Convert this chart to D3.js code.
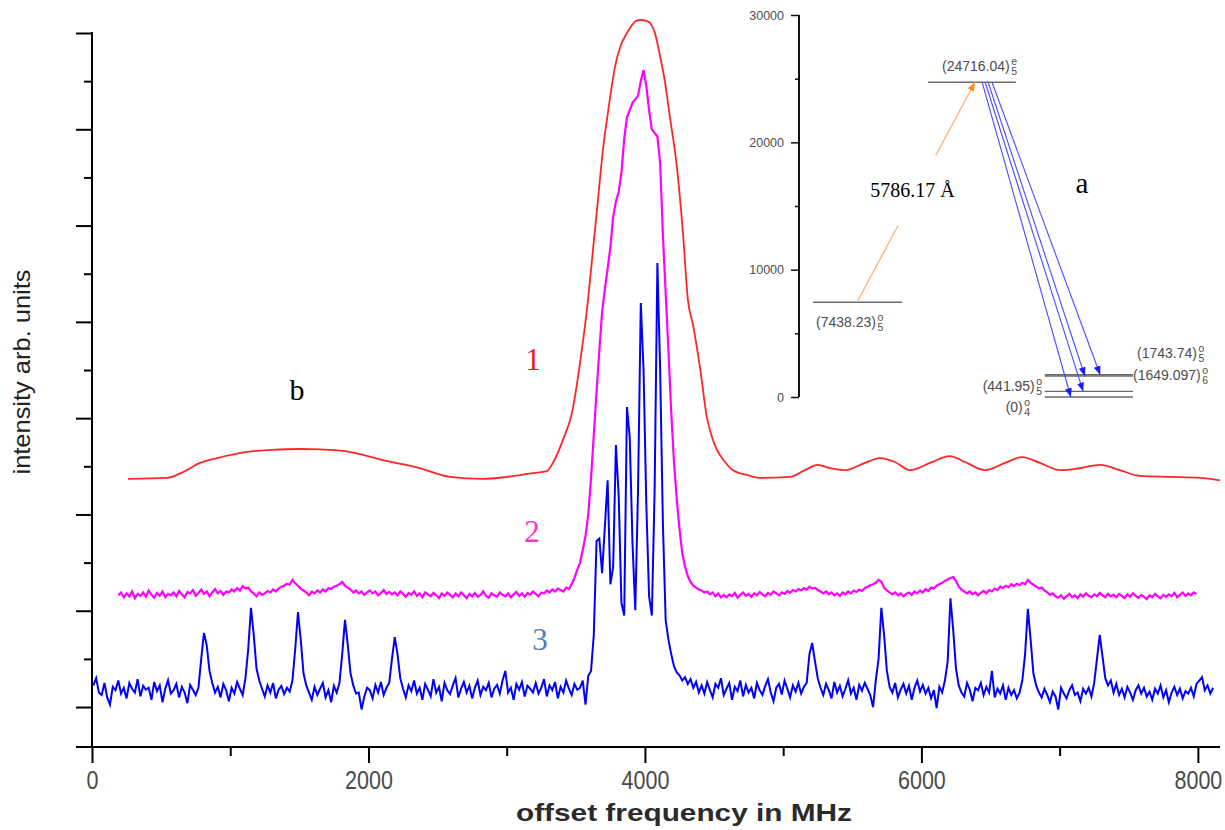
<!DOCTYPE html>
<html><head><meta charset="utf-8">
<script src="https://cdn.jsdelivr.net/npm/d3@7/dist/d3.min.js"></script>
<style>body{margin:0;background:#fff;} svg{display:block;}</style>
</head><body>
<svg id="chart" width="1225" height="830"></svg>
<script>
// ---------------- DATA ----------------
const xMajorTicks = [0, 2000, 4000, 6000, 8000];
const xMinorTicks = [1000, 3000, 5000, 7000];
const yMajorTicks = [0, 200, 400, 600, 800, 1000, 1200, 1400];
const yMinorTicks = [100, 300, 500, 700, 900, 1100, 1300];

// curve 1 (red): [offset MHz, intensity]
const redCurve = [[260,474],[542,476],[658,488],[781,507],[904,517],[1121,530],[1300,534],[1505,536],[1650,535],[1816,532],[1960,524],[2105,513],[2351,498],[2590,478],[2828,474],[3000,478],[3190,486],[3291,490],[3334,507],[3407,555],[3472,611],[3530,714],[3588,845],[3624,949],[3660,1053],[3696,1157],[3740,1250],[3783,1329],[3826,1375],[3870,1400],[3906,1416],[3935,1425],[3971,1427],[4007,1425],[4036,1421],[4072,1400],[4108,1354],[4145,1298],[4181,1225],[4231,1122],[4275,985],[4311,845],[4347,795],[4398,706],[4448,602],[4485,561],[4521,534],[4579,509],[4637,492],[4738,482],[4832,476],[5049,478],[5157,492],[5251,503],[5338,496],[5447,492],[5591,507],[5700,517],[5808,509],[5917,492],[6062,507],[6206,521],[6315,509],[6459,492],[6604,507],[6727,519],[6857,507],[7002,492],[7146,496],[7291,503],[7436,492],[7581,480],[7797,478],[8014,476],[8159,471]];

// curve 2 (magenta): sampled every magentaStep MHz from magentaStart
const magentaStart = 190, magentaStep = 20;
const magentaValues = [
232,238,228,236,230,240,226,235,231,238,229,242,233,227,237,231,240,228,235,232,
238,230,241,234,228,239,236,243,231,237,244,235,240,230,238,245,236,241,233,240,
238,244,240,247,242,251,246,248,240,236,230,238,233,236,241,238,244,240,246,250,
252,256,254,264,257,252,246,242,238,232,240,236,242,238,244,240,247,245,250,252,
255,260,252,248,244,238,242,236,240,233,238,242,236,240,232,237,243,235,239,234,
238,232,240,235,229,237,233,240,231,236,228,238,234,230,237,232,226,236,231,238,
233,228,236,230,238,232,226,235,230,237,229,233,240,231,227,236,232,229,238,233,
230,236,228,234,239,231,236,229,237,233,240,235,230,238,236,242,238,244,240,246,
243,240,248,245,255,268,285,299,326,355,400,475,565,655,740,820,868,910,955,1018,
1050,1070,1110,1180,1225,1240,1255,1262,1270,1300,1323,1290,1240,1200,1192,1185,1130,980,860,740,
613,510,432,370,320,292,272,260,252,248,244,242,238,240,234,238,230,236,228,233,
228,234,230,237,227,233,238,231,235,229,236,232,239,234,230,237,233,240,236,232,
238,235,241,237,243,240,245,242,247,244,250,246,248,243,240,236,240,234,238,232,
236,231,238,234,240,236,242,239,244,241,247,250,253,255,258,264,260,248,242,238,
234,238,232,236,230,235,238,233,240,236,242,238,245,241,248,246,252,255,258,262,
265,268,270,262,250,244,240,236,240,234,238,232,237,241,236,243,240,246,243,250,
247,252,249,255,251,256,253,258,255,264,258,254,250,246,248,242,238,233,236,230,
227,232,225,230,235,228,232,226,234,229,236,231,228,234,230,237,232,228,235,230,
233,228,235,231,226,234,229,236,231,227,233,229,224,232,228,235,230,226,233,229,
234,230,237,228,233,238,231,236,232,238,235];

// curve 3 (blue): sampled every blueStep MHz from blueStart
const blueStart = 10, blueStep = 20;
const blueValues = [
45,60,30,25,50,20,5,42,35,55,28,40,18,50,38,30,58,22,44,36,
40,15,52,33,45,10,38,56,28,35,48,20,42,30,8,46,36,25,40,100,
154,128,75,50,30,42,20,48,35,12,40,28,52,38,25,60,120,206,150,80,
55,38,22,45,30,50,18,36,44,27,40,32,55,120,197,140,70,45,30,15,
42,25,38,50,20,35,10,44,30,50,110,181,130,70,45,28,30,-5,22,40,
35,18,46,30,52,25,40,50,100,145,110,60,38,20,45,33,55,28,40,15,
48,36,22,58,30,42,12,50,35,27,45,60,20,38,52,30,44,18,40,55,
25,42,35,50,20,38,46,28,55,75,30,40,15,48,36,52,22,44,38,30,
50,28,40,58,22,45,35,52,18,42,30,55,38,25,48,36,40,55,5,65,
75,150,345,350,278,374,471,255,291,544,440,216,190,623,560,340,201,450,839,700,
420,230,190,450,922,700,380,180,140,110,85,72,66,55,62,48,58,40,52,30,
45,28,52,35,20,48,40,60,25,38,50,15,42,33,55,22,46,30,40,18,
50,35,25,44,58,30,12,40,48,26,55,38,20,45,32,50,28,42,50,110,
133,95,60,40,25,48,35,18,52,30,44,22,38,56,28,40,15,46,34,50,
38,25,0,55,100,206,150,75,42,30,50,20,36,48,28,44,15,40,55,32,
46,28,40,18,35,-2,42,30,55,95,226,160,80,45,30,22,50,36,12,40,
35,50,25,42,30,75,20,38,28,45,15,40,25,35,18,30,55,110,204,140,
70,45,30,20,38,25,10,32,22,-5,40,28,18,35,45,25,30,12,38,28,
40,22,50,100,150,105,60,45,55,30,48,25,38,20,42,30,15,35,45,28,
40,22,32,15,38,28,45,20,35,10,30,42,25,38,18,33,28,40,22,48,
55,62,35,45,28,40];

// curve labels: [text, offset MHz, intensity]
const curveLabels = [["1",3190,700],["2",3183,343],["3",3240,118],["b",1483,638]];

// inset: energy level diagram (cm^-1)
const insetMajorTicks = [0, 10000, 20000, 30000];
const insetMinorTicks = [5000, 15000, 25000];
// [energy, value text, superscript, subscript, column]
const levels = [
  [7438.23, "(7438.23)", "o", "5", 0],
  [24716.04, "(24716.04)", "e", "5", 1],
  [0, "(0)", "o", "4", 2],
  [441.95, "(441.95)", "o", "5", 2],
  [1649.097, "(1649.097)", "o", "6", 2],
  [1743.74, "(1743.74)", "o", "5", 2]
];
const columnSpans = [[3.3, 24.2], [30.3, 50.9], [57.7, 78.4]];
// transitions: [from pos, from energy, to pos, to energy]
const excitation = [13.6, 7438.23, 41.3, 24716.04];
const emissions = [
  [43.0, 24716.04, 63.8, 0],
  [43.7, 24716.04, 66.7, 441.95],
  [44.4, 24716.04, 67.1, 1649.097],
  [45.3, 24716.04, 70.7, 1743.74]
];
const wavelengthLabel = ["5786.17 Å", 16.7, 15707];
const insetLetter = ["a", 66.4, 16021];

// ---------------- DRAWING ----------------
const svg = d3.select("#chart");
const x = d3.scaleLinear().domain([0, 8160]).range([92, 1220]);
const y = d3.scaleLinear().domain([-83, 1400]).range([747, 33]);

const sans = "'Liberation Sans',Arial,sans-serif";
const serif = "'Liberation Serif','Times New Roman',serif";

// curves
const line = d3.line().x(d => x(d[0])).y(d => y(d[1]));
const smooth = d3.line().x(d => x(d[0])).y(d => y(d[1])).curve(d3.curveMonotoneX);
const magentaPts = magentaValues.map((v, i) => [magentaStart + i * magentaStep, v]);
const bluePts = blueValues.map((v, i) => [blueStart + i * blueStep, v]);

svg.append("path").datum(bluePts).attr("d", line)
  .attr("fill", "none").attr("stroke", "#0000ff").attr("stroke-width", 2);
svg.append("path").datum(magentaPts).attr("d", line)
  .attr("fill", "none").attr("stroke", "#ff00ff").attr("stroke-width", 2.2);
svg.append("path").datum(redCurve).attr("d", smooth)
  .attr("fill", "none").attr("stroke", "#ff2626").attr("stroke-width", 1.8);

// axes
function styleAxis(g) {
  g.select(".domain").remove();
  g.selectAll(".tick line").attr("stroke", "#000").attr("stroke-width", 2);
}
const gx = svg.append("g").attr("transform", `translate(0,${y(-83)})`);
gx.call(d3.axisBottom(x).tickValues(xMajorTicks).tickSize(16).tickSizeOuter(0).tickFormat(d3.format("d")))
  .call(styleAxis);
gx.selectAll("text").attr("y", 42).attr("dy", null)
  .attr("font-family", sans).attr("font-size", 25).attr("fill", "#4a4a4a")
  .attr("transform", "scale(0.86,1)");
const gx2 = svg.append("g").attr("transform", `translate(0,${y(-83)})`);
gx2.call(d3.axisBottom(x).tickValues(xMinorTicks).tickSize(9).tickFormat("")).call(styleAxis);

const gy = svg.append("g").attr("transform", `translate(${x(0)},0)`);
gy.call(d3.axisLeft(y).tickValues(yMajorTicks).tickSize(16).tickFormat("")).call(styleAxis);
const gy2 = svg.append("g").attr("transform", `translate(${x(0)},0)`);
gy2.call(d3.axisLeft(y).tickValues(yMinorTicks).tickSize(8).tickFormat("")).call(styleAxis);

// axis lines
svg.append("line").attr("x1", x(0) - 16).attr("x2", x(8160)).attr("y1", y(-83)).attr("y2", y(-83))
  .attr("stroke", "#000").attr("stroke-width", 2);
svg.append("line").attr("x1", x(0)).attr("x2", x(0)).attr("y1", y(1400) - 1).attr("y2", y(-83))
  .attr("stroke", "#000").attr("stroke-width", 2);

// axis titles
svg.append("text").text("offset frequency in MHz")
  .attr("x", 684).attr("y", 821).attr("text-anchor", "middle")
  .attr("font-family", sans).attr("font-size", 24).attr("font-weight", "bold").attr("fill", "#2b2b2b")
  .attr("textLength", 336).attr("lengthAdjust", "spacingAndGlyphs");
svg.append("text").text("intensity arb. units")
  .attr("transform", "translate(30,372) rotate(-90)").attr("text-anchor", "middle")
  .attr("font-family", sans).attr("font-size", 24).attr("fill", "#222")
  .attr("textLength", 205).attr("lengthAdjust", "spacingAndGlyphs");

// curve labels
const labelColors = {"1": "#ee1c24", "2": "#ff33cc", "3": "#4f7fb8", "b": "#000"};
svg.selectAll("text.clabel").data(curveLabels).enter().append("text").attr("class", "clabel")
  .text(d => d[0]).attr("x", d => x(d[1])).attr("y", d => y(d[2]))
  .attr("text-anchor", "middle").attr("font-family", serif)
  .attr("font-size", d => d[0] === "b" ? 30 : 31).attr("fill", d => labelColors[d[0]]);

// ---------------- INSET ----------------
const iy = d3.scaleLinear().domain([0, 30000]).range([397, 15]);
const ix = d3.scaleLinear().domain([0, 100]).range([799, 1225]);
const inset = svg.append("g");

const giy = inset.append("g").attr("transform", `translate(${ix(0)},0)`);
giy.call(d3.axisLeft(iy).tickValues(insetMajorTicks).tickSize(8).tickPadding(7).tickFormat(d3.format("d")));
giy.select(".domain").remove();
giy.selectAll(".tick line").attr("stroke", "#111").attr("stroke-width", 1.5);
giy.selectAll("text").attr("font-family", sans).attr("font-size", 12.5).attr("fill", "#4d4d4d");
const giy2 = inset.append("g").attr("transform", `translate(${ix(0)},0)`);
giy2.call(d3.axisLeft(iy).tickValues(insetMinorTicks).tickSize(4).tickFormat(""));
giy2.select(".domain").remove();
giy2.selectAll(".tick line").attr("stroke", "#111").attr("stroke-width", 1.5);
inset.append("line").attr("x1", ix(0)).attr("x2", ix(0)).attr("y1", iy(30000)).attr("y2", iy(0))
  .attr("stroke", "#111").attr("stroke-width", 2);

// markers
const defs = svg.append("defs");
defs.append("marker").attr("id", "ahBlue").attr("viewBox", "0 0 10 8").attr("refX", 10).attr("refY", 4)
  .attr("markerWidth", 9).attr("markerHeight", 7).attr("markerUnits", "userSpaceOnUse").attr("orient", "auto")
  .append("path").attr("d", "M0,0 L10,4 L0,8 Z").attr("fill", "#1a1aff");
defs.append("marker").attr("id", "ahOrange").attr("viewBox", "0 0 10 8").attr("refX", 10).attr("refY", 4)
  .attr("markerWidth", 9).attr("markerHeight", 7).attr("markerUnits", "userSpaceOnUse").attr("orient", "auto")
  .append("path").attr("d", "M0,0 L10,4 L0,8 Z").attr("fill", "#ff8a1c");

// level lines
inset.selectAll("line.level").data(levels).enter().append("line").attr("class", "level")
  .attr("x1", d => ix(columnSpans[d[4]][0])).attr("x2", d => ix(columnSpans[d[4]][1]))
  .attr("y1", d => iy(d[0])).attr("y2", d => iy(d[0]))
  .attr("stroke", "#6a6a6a").attr("stroke-width", 1.4);

// level labels (layout offsets)
const labelLayout = {
  "(7438.23)": {ref: "left", dx: 3, dy: 25, anchor: "start"},
  "(24716.04)": {ref: "left", dx: 14, dy: -11, anchor: "start"},
  "(0)": {ref: "left", dx: -22, dy: 15, anchor: "end"},
  "(441.95)": {ref: "left", dx: -10, dy: 0, anchor: "end"},
  "(1649.097)": {ref: "right", dx: 0, dy: 4, anchor: "start"},
  "(1743.74)": {ref: "right", dx: 4, dy: -17, anchor: "start"}
};
levels.forEach(d => {
  const L = labelLayout[d[1]];
  const span = columnSpans[d[4]];
  const lx = ix(L.ref === "left" ? span[0] : span[1]) + L.dx;
  const ly = iy(d[0]) + L.dy;
  const t = inset.append("text").text(d[1]).attr("x", lx).attr("y", ly)
    .attr("text-anchor", L.anchor).attr("font-family", sans).attr("font-size", 14).attr("fill", "#4d4d4d");
  const w = t.node().getComputedTextLength();
  const ex = (L.anchor === "start" ? lx + w : lx) + 1.5;
  inset.append("text").text(d[2]).attr("x", ex).attr("y", ly - 6)
    .attr("font-family", sans).attr("font-size", 10.5).attr("fill", "#4d4d4d");
  inset.append("text").text(d[3]).attr("x", ex).attr("y", ly + 4)
    .attr("font-family", sans).attr("font-size", 10.5).attr("fill", "#4d4d4d");
});

// excitation arrow (broken around the wavelength label)
const exGap = [0.35, 0.668];
const ePt = t => [ix(excitation[0] + (excitation[2] - excitation[0]) * t), iy(excitation[1] + (excitation[3] - excitation[1]) * t)];
[[0, exGap[0]], [exGap[1], 1]].forEach((seg, k) => {
  const a = ePt(seg[0]), b = ePt(seg[1]);
  const l = inset.append("line").attr("x1", a[0]).attr("y1", a[1]).attr("x2", b[0]).attr("y2", b[1])
    .attr("stroke", "#ffb072").attr("stroke-width", 1.3);
  if (k === 1) l.attr("marker-end", "url(#ahOrange)");
});

// emission arrows
inset.selectAll("line.em").data(emissions).enter().append("line").attr("class", "em")
  .attr("x1", d => ix(d[0])).attr("y1", d => iy(d[1])).attr("x2", d => ix(d[2])).attr("y2", d => iy(d[3]))
  .attr("stroke", "#4a4aff").attr("stroke-width", 1.1).attr("marker-end", "url(#ahBlue)");

// inset texts
inset.append("text").text(wavelengthLabel[0]).attr("x", ix(wavelengthLabel[1])).attr("y", iy(wavelengthLabel[2]))
  .attr("font-family", serif).attr("font-size", 20).attr("fill", "#000");
inset.append("text").text(insetLetter[0]).attr("x", ix(insetLetter[1])).attr("y", iy(insetLetter[2]))
  .attr("text-anchor", "middle").attr("font-family", serif).attr("font-size", 29).attr("fill", "#000");
</script>
</body></html>
